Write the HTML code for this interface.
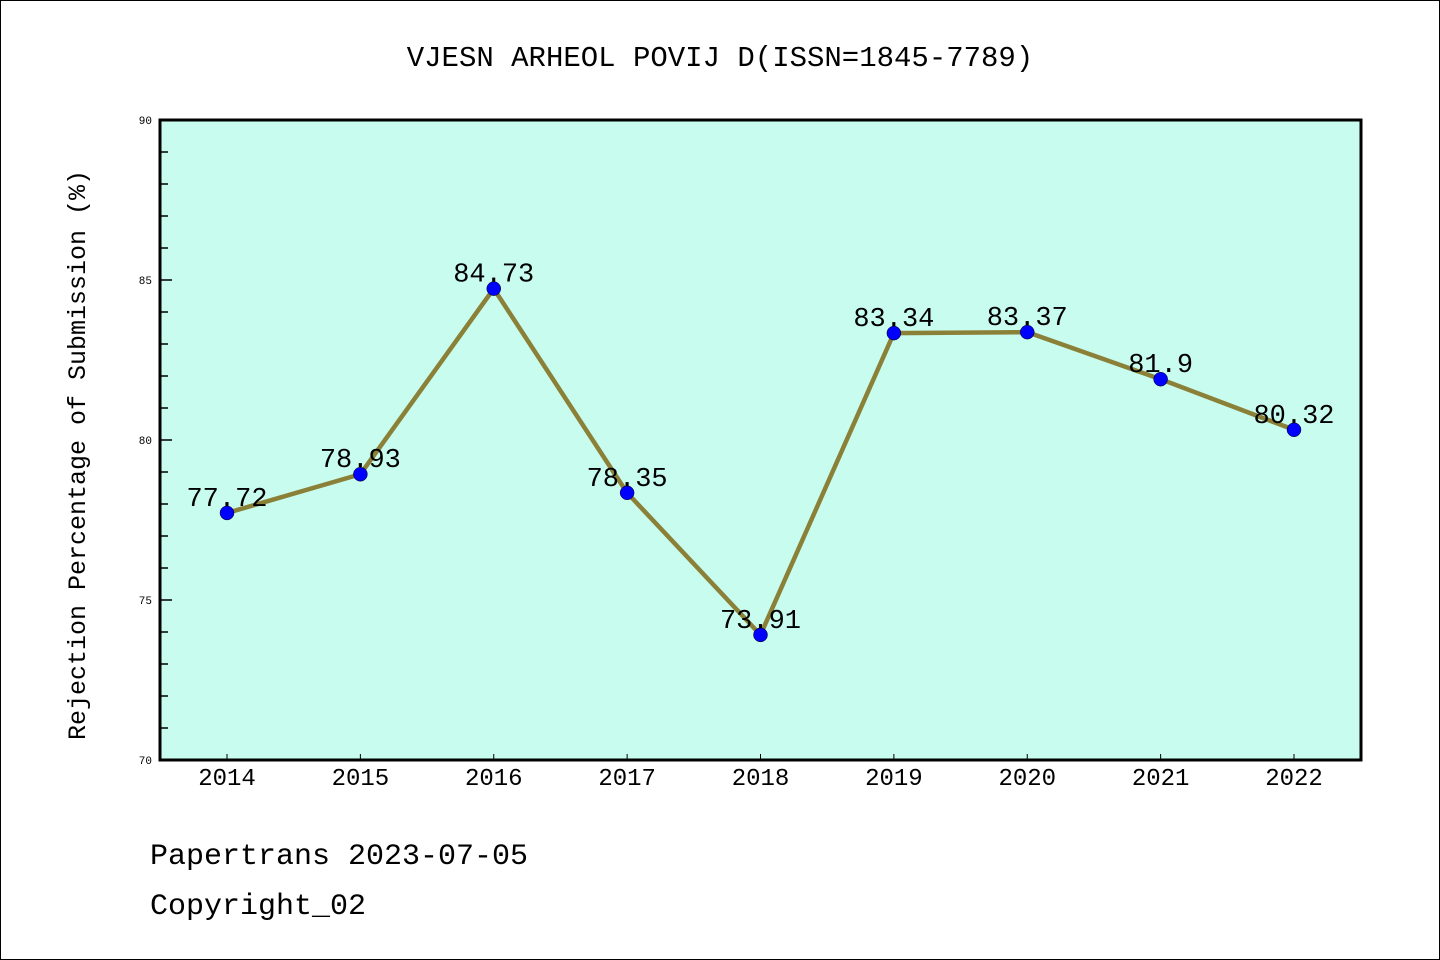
<!DOCTYPE html>
<html><head><meta charset="utf-8"><style>
html,body{margin:0;padding:0;background:#fff}
svg{display:block}
text{font-family:"Liberation Mono","DejaVu Sans Mono",monospace}
</style></head><body>
<svg id="chart" width="1440" height="960">
<rect x="0.5" y="0.5" width="1439" height="959" fill="#fff" stroke="#000"/>
<text x="720" y="66" text-anchor="middle" font-size="29">VJESN ARHEOL POVIJ D(ISSN=1845-7789)</text>
<rect x="160" y="120" width="1201" height="640" fill="#c8fcee"/>
<g id="axes"></g>
<g id="series"></g>
<rect x="160" y="120" width="1201" height="640" fill="none" stroke="#000" stroke-width="3"/>
<text transform="translate(85,455) rotate(-90)" text-anchor="middle" font-size="25">Rejection Percentage of Submission (%)</text>
<text x="150" y="864" font-size="30">Papertrans 2023-07-05</text>
<text x="150" y="914" font-size="30">Copyright_02</text>
</svg>
<script>
const years = ["2014","2015","2016","2017","2018","2019","2020","2021","2022"];
const rates = [77.72,78.93,84.73,78.35,73.91,83.34,83.37,81.9,80.32];
const rateLabels = ["77.72","78.93","84.73","78.35","73.91","83.34","83.37","81.9","80.32"];
const yTicks = [70,75,80,85,90];
const yMin = 70, yMax = 90;
const NS = "http://www.w3.org/2000/svg";
const x0 = 227, x1 = 1294;
function xs(i){ return x0 + (x1 - x0) * i / (years.length - 1); }
function ys(v){ return 760 - (v - yMin) / (yMax - yMin) * 640; }
function mk(tag, attrs, parent){ const e=document.createElementNS(NS,tag); for(const k in attrs) e.setAttribute(k,attrs[k]); parent.appendChild(e); return e; }
const axes=document.getElementById('axes'), ser=document.getElementById('series');
for(let v=yMin; v<=yMax; v++){
  const major = yTicks.includes(v);
  const t = mk('line',{x1:160,x2:major?172:168,y1:ys(v),y2:ys(v),stroke:'#000','stroke-width':1.5},axes);
  
  
}
yTicks.forEach(v=>{
  const t = mk('text',{x:152,y:ys(v)+4,'text-anchor':'end','font-size':11,'font-family':'Liberation Sans, sans-serif'},axes);
  t.textContent=v;
  
  
});
years.forEach((y,i)=>{
  const t = mk('line',{x1:xs(i),x2:xs(i),y1:760,y2:754,stroke:'#000','stroke-width':1},axes);
  
  
  const l = mk('text',{x:xs(i),y:785,'text-anchor':'middle','font-size':24,'font-family':'Liberation Sans, sans-serif'},axes);
  l.textContent=y;
  
  
});
const line = mk('polyline',{points:rates.map((v,i)=>xs(i)+','+ys(v)).join(' '),fill:'none',stroke:'#8b8038','stroke-width':4.5},ser);


rates.forEach((v,i)=>{
  const c = mk('circle',{cx:xs(i),cy:ys(v),r:7,fill:'#0000ff',stroke:'#000','stroke-width':0.5},ser);
  
  
  const t = mk('text',{x:xs(i),y:ys(v)-7,'text-anchor':'middle','font-size':27},ser);
  t.textContent=rateLabels[i];
  
  
});
</script>
</body></html>
